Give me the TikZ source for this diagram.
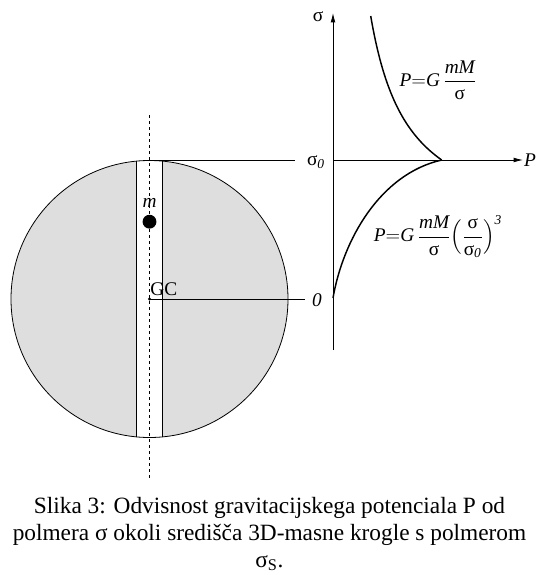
\documentclass[tikz,border=0pt]{standalone}
\usepackage{amsmath}
\usepackage{fontspec}
\setmainfont{Liberation Serif}
\usetikzlibrary{arrows.meta}
\definecolor{ballfill}{gray}{0.87}
\tikzset{
  lbl/.style={font=\fontsize{14.5}{16}\selectfont},
  ilbl/.style={font=\fontsize{14.5}{16}\selectfont\itshape},
  axisline/.style={-{Latex[length=7pt,width=3.5pt]}},
  curveline/.style={line width=1.1pt}
}

\begin{document}
\begin{tikzpicture}[x=0.75pt, y=-0.75pt, line width=0.6pt]
		\useasboundingbox (0,0) rectangle (539,575);

		\fill[ballfill] (149.5,299) circle[radius=103.875pt];
		\begin{scope}
			\clip (149.5,299) circle[radius=103.875pt];
			\fill[white] (136.7,150) rectangle (162.3,450);
			\draw (136.7,150) -- (136.7,450) (162.3,150) -- (162.3,450);
		\end{scope}
		\draw (149.5,299) circle[radius=103.875pt];
		\draw[dash pattern=on 2pt off 2.5pt] (149.5,115) -- (149.5,480);

		\fill (149.5,221.7) circle[radius=5.2pt];
		\node[ilbl] (mlabel) at (149.5,203) {m};
		\fill (149.5,299) circle[radius=1.3pt];
		\coordinate (gc) at (149.5,299);
		\node[lbl, inner sep=0pt, anchor=base west] (gclabel) at (150,295) {GC};

		\coordinate (topline) at (149.5,160);
		\coordinate (topend) at (295,160);
		\coordinate (midend) at (305,299);
		\draw (topline) -- (topend);
		\draw (gc) -- (midend);
		\node[lbl] (sigmazero) at (316,162) {σ\textsubscript{\itshape 0}};
		\node[ilbl] (zero) at (317,300) {0};

		\coordinate (origin) at (333,160);
		\coordinate (sbottom) at (333,350);
		\coordinate (stop) at (333,13);
		\coordinate (pend) at (523,160);
		\coordinate (cusp) at (441.7,160);
		\coordinate (zeropt) at (333,298);
		\draw[axisline] (sbottom) -- (stop);
		\draw[axisline] (origin) -- (pend);
		\node[lbl] (saxis) at (318,17) {σ};
		\node[ilbl, anchor=west, inner sep=0.5pt] (paxis) at (pend) {P};

		\draw[curveline] plot[domain=16:160, samples=60] ({333+8316/(236.5-\x)},\x);
		\draw[curveline] (zeropt) .. controls (343,240) and (380,174) .. (cusp);

		\node[lbl] (outer) at (438,80) {$\textit{P}{=}\textit{G}\,\dfrac{\textit{mM}}{\text{σ}}$};
		\node[lbl] (inner) at (438,237) {$\textit{P}{=}\textit{G}\,\dfrac{\textit{mM}}{\text{σ}}\Bigl(\dfrac{\text{σ}}{\text{σ}_{\textit{0}}}\Bigr)^{\textit{3}}$};

		\node[align=center, font=\fontsize{17.5}{20.25}\selectfont] (caption) at (269.5,534) {Slika 3: Odvisnost gravitacijskega potenciala P od\\polmera σ okoli središča 3D-masne krogle s polmerom\\σ\textsubscript{S}.};
	\end{tikzpicture}
\end{document}
